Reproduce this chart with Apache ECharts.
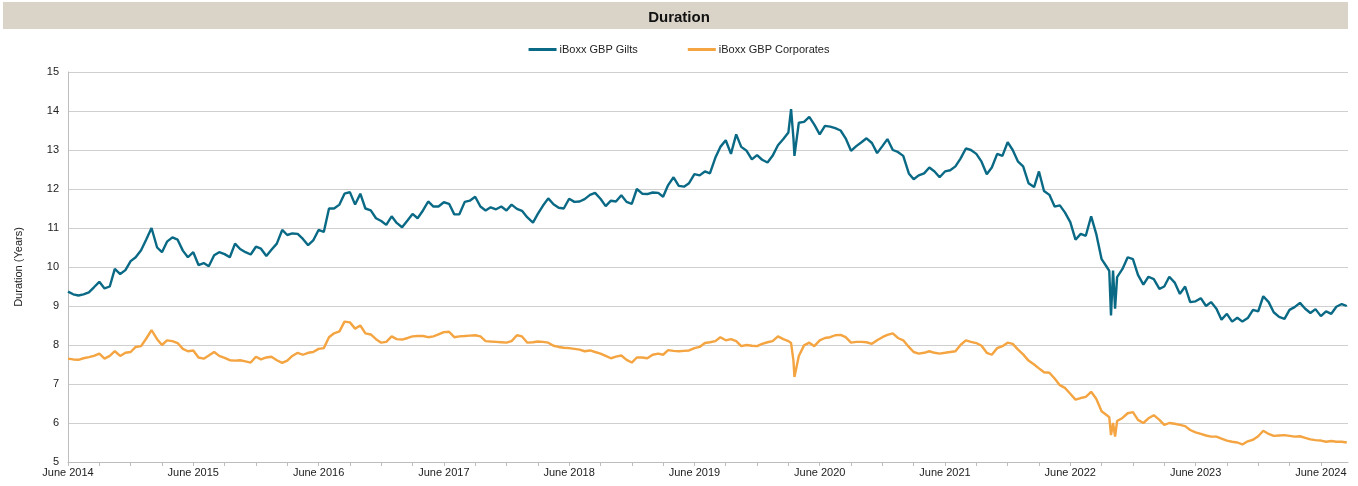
<!DOCTYPE html>
<html>
<head>
<meta charset="utf-8">
<title>Duration</title>
<script src="https://cdn.jsdelivr.net/npm/echarts@6/dist/echarts.min.js"></script>
<style>
  html, body { margin: 0; padding: 0; background: #fff; }
  #chart { width: 1358px; height: 486px; }
</style>
</head>
<body>
<div id="chart"></div>
<script>
// sampling calendar: 1st and 16th of each month, plus extra days around the two shocks
function halfMonths(from, to) {
  let [y, m] = from.split('-').map(Number)
  const [ty, tm] = to.split('-').map(Number)
  const out = []
  while (y < ty || (y === ty && m <= tm)) {
    const mm = String(m).padStart(2, '0')
    out.push(y + '-' + mm + '-01', y + '-' + mm + '-16')
    m++
    if (m > 12) { m = 1; y++ }
  }
  return out
}

const dates = [].concat(
  halfMonths('2014-06', '2020-02'),
  ['2020-03-01', '2020-03-09', '2020-03-16', '2020-03-19'],
  halfMonths('2020-04', '2022-08'),
  ['2022-09-01', '2022-09-16', '2022-09-23', '2022-09-28', '2022-10-04', '2022-10-10', '2022-10-16'],
  halfMonths('2022-11', '2024-08')
)

const giltsDuration = [
  // 2014
  9.37, 9.30, 9.27, 9.30, 9.35, 9.48, 9.62, 9.45, 9.50, 9.95, 9.82, 9.92, 10.15, 10.25,
  // 2015
  10.43, 10.70, 11.00, 10.50, 10.38, 10.65, 10.76, 10.70, 10.42, 10.25, 10.38, 10.05,
  10.10, 10.02, 10.30, 10.38, 10.33, 10.25, 10.60, 10.46, 10.38, 10.32, 10.52, 10.47,
  // 2016
  10.28, 10.44, 10.60, 10.95, 10.82, 10.86, 10.85, 10.72, 10.56, 10.68, 10.95, 10.90,
  11.50, 11.50, 11.60, 11.88, 11.92, 11.60, 11.88, 11.50, 11.45, 11.25, 11.18, 11.08,
  // 2017
  11.30, 11.13, 11.02, 11.20, 11.36, 11.25, 11.45, 11.68, 11.55, 11.55, 11.66, 11.62,
  11.35, 11.35, 11.67, 11.70, 11.80, 11.55, 11.45, 11.53, 11.48, 11.55, 11.45, 11.60,
  // 2018
  11.49, 11.44, 11.27, 11.14, 11.36, 11.57, 11.76, 11.61, 11.52, 11.50, 11.75, 11.67,
  11.68, 11.74, 11.85, 11.90, 11.75, 11.56, 11.70, 11.68, 11.84, 11.67, 11.62, 12.00,
  // 2019
  11.88, 11.87, 11.91, 11.90, 11.80, 12.10, 12.30, 12.08, 12.06, 12.15, 12.38, 12.35,
  12.45, 12.40, 12.80, 13.08, 13.25, 12.90, 13.40, 13.08, 12.98, 12.76, 12.87, 12.75,
  // 2020
  12.68, 12.85, 13.12, 13.28, 13.45, 14.05, 13.30, 12.85, 13.70, 13.72, 13.85, 13.65, 13.40,
  13.62, 13.60, 13.56, 13.50, 13.30, 12.98, 13.10, 13.20, 13.30, 13.18, 12.92, 13.10, 13.28,
  // 2021
  13.00, 12.95, 12.85, 12.40, 12.25, 12.35, 12.40, 12.55, 12.45, 12.30, 12.45, 12.48,
  12.58, 12.78, 13.04, 13.00, 12.90, 12.70, 12.38, 12.55, 12.90, 12.85, 13.20, 13.00,
  // 2022
  12.70, 12.58, 12.15, 12.05, 12.45, 11.95, 11.85, 11.55, 11.58, 11.40, 11.15, 10.70,
  10.85, 10.80, 11.30, 10.85, 10.20, 10.00, 9.90, 8.76, 9.91, 8.93, 9.74,
  9.95, 10.25, 10.20, 9.80,
  // 2023
  9.55, 9.75, 9.69, 9.44, 9.50, 9.75, 9.60, 9.31, 9.50, 9.10, 9.12, 9.20,
  9.00, 9.10, 8.93, 8.65, 8.80, 8.60, 8.70, 8.60, 8.69, 8.90, 8.86, 9.25,
  // 2024
  9.10, 8.84, 8.72, 8.67, 8.90, 8.97, 9.08, 8.93, 8.82, 8.92, 8.74, 8.86, 8.80, 8.98, 9.05, 9.00
]

const corporatesDuration = [
  // 2014
  7.65, 7.63, 7.62, 7.66, 7.69, 7.72, 7.78, 7.65, 7.72, 7.84, 7.72, 7.80, 7.82, 7.95,
  // 2015
  7.97, 8.16, 8.38, 8.15, 8.00, 8.12, 8.10, 8.05, 7.90, 7.84, 7.86, 7.68,
  7.65, 7.73, 7.82, 7.72, 7.67, 7.61, 7.60, 7.61, 7.58, 7.55, 7.70, 7.63,
  // 2016
  7.68, 7.70, 7.61, 7.54, 7.60, 7.72, 7.80, 7.75, 7.80, 7.82, 7.90, 7.92,
  8.20, 8.30, 8.35, 8.60, 8.58, 8.42, 8.50, 8.30, 8.27, 8.15, 8.06, 8.08,
  // 2017
  8.22, 8.15, 8.14, 8.18, 8.22, 8.23, 8.23, 8.20, 8.22, 8.27, 8.33, 8.34,
  8.20, 8.22, 8.23, 8.24, 8.25, 8.22, 8.10, 8.09, 8.08, 8.07, 8.06, 8.10,
  // 2018
  8.25, 8.22, 8.06, 8.07, 8.09, 8.08, 8.06, 7.98, 7.95, 7.93, 7.92, 7.90,
  7.88, 7.84, 7.86, 7.82, 7.78, 7.72, 7.66, 7.70, 7.73, 7.62, 7.55, 7.68,
  // 2019
  7.68, 7.66, 7.75, 7.78, 7.75, 7.87, 7.85, 7.84, 7.85, 7.86, 7.92, 7.95,
  8.05, 8.07, 8.10, 8.20, 8.12, 8.15, 8.10, 7.97, 8.00, 7.98, 7.97, 8.03,
  // 2020
  8.07, 8.10, 8.22, 8.15, 8.10, 8.05, 7.60, 7.18, 7.72, 7.99, 8.06, 7.97, 8.12,
  8.18, 8.20, 8.25, 8.26, 8.20, 8.06, 8.08, 8.08, 8.07, 8.03, 8.12, 8.20, 8.26,
  // 2021
  8.30, 8.18, 8.12, 7.95, 7.82, 7.78, 7.80, 7.84, 7.80, 7.78, 7.80, 7.82,
  7.84, 8.00, 8.12, 8.08, 8.05, 7.98, 7.80, 7.75, 7.92, 7.97, 8.06, 8.03,
  // 2022
  7.88, 7.76, 7.60, 7.50, 7.40, 7.30, 7.29, 7.14, 6.97, 6.90, 6.75, 6.60,
  6.64, 6.67, 6.80, 6.62, 6.30, 6.20, 6.15, 5.69, 6.00, 5.65, 6.05,
  6.13, 6.25, 6.28, 6.08,
  // 2023
  6.00, 6.12, 6.20, 6.08, 5.95, 6.00, 5.98, 5.95, 5.92, 5.82, 5.76, 5.72,
  5.68, 5.65, 5.65, 5.60, 5.55, 5.52, 5.50, 5.45, 5.53, 5.57, 5.66, 5.80,
  // 2024
  5.72, 5.67, 5.68, 5.69, 5.67, 5.65, 5.66, 5.62, 5.58, 5.56, 5.55, 5.52, 5.54, 5.52, 5.52, 5.50
]

const seriesNames = ['iBoxx GBP Gilts', 'iBoxx GBP Corporates']
const yTicks = [5, 6, 7, 8, 9, 10, 11, 12, 13, 14, 15]
const xLabelYears = [2014, 2015, 2016, 2017, 2018, 2019, 2020, 2021, 2022, 2023, 2024]

// x axis runs in months since 1 June 2014
function monthOffset(s) {
  const [y, mo, d] = s.split('-').map(Number)
  const dim = new Date(y, mo, 0).getDate()
  return (y - 2014) * 12 + (mo - 6) + (d - 1) / dim
}
const xs = dates.map(monthOffset)
const pairs = (vals) => vals.map((v, i) => [xs[i], v])

const labelTicks = xLabelYears.map(y => (y - 2014) * 12)
const quarterTicks = []
for (let q = 0; q <= 120; q += 3) quarterTicks.push(q)

const font = "'Liberation Sans', Arial, sans-serif"
const chart = echarts.init(document.getElementById('chart'))

chart.setOption({
  animation: false,
  textStyle: { fontFamily: font },
  graphic: [
    {
      type: 'rect',
      left: 3,
      top: 2,
      shape: { width: 1345, height: 27 },
      style: { fill: '#d9d3c8' },
      z: -1
    }
  ],
  title: {
    text: 'Duration',
    left: 'center',
    top: 5,
    textStyle: { fontSize: 15, fontWeight: 'bold', color: '#111', fontFamily: font }
  },
  legend: {
    top: 39,
    left: 'center',
    itemGap: 50,
    itemWidth: 28,
    itemHeight: 3,
    icon: 'rect',
    textStyle: { fontSize: 11, color: '#222', padding: [0, 0, 0, -2] },
    data: seriesNames
  },
  grid: { left: 68, right: 10, top: 72, bottom: 24 },
  xAxis: {
    type: 'value',
    min: 0,
    max: 122.6,
    axisLine: { lineStyle: { color: '#bdbdbd' } },
    axisTick: { show: true, length: 4, customValues: quarterTicks, lineStyle: { color: '#bdbdbd' } },
    axisLabel: {
      customValues: labelTicks,
      color: '#222',
      fontSize: 11,
      margin: 5,
      formatter: (v) => 'June ' + (2014 + Math.round(v / 12))
    },
    splitLine: { show: false }
  },
  yAxis: {
    type: 'value',
    min: yTicks[0],
    max: yTicks[yTicks.length - 1],
    interval: 1,
    name: 'Duration (Years)',
    nameLocation: 'middle',
    nameGap: 44,
    nameTextStyle: { fontSize: 11, color: '#222' },
    axisLine: { show: true, lineStyle: { color: '#bdbdbd' } },
    axisTick: { show: false },
    axisLabel: { color: '#222', fontSize: 11, margin: 9 },
    splitLine: { lineStyle: { color: '#cfcfcf', width: 1 } }
  },
  series: [
    {
      name: seriesNames[1],
      type: 'line',
      data: pairs(corporatesDuration),
      showSymbol: false,
      color: '#f4a441',
      lineStyle: { width: 2.4, color: '#f4a441' }
    },
    {
      name: seriesNames[0],
      type: 'line',
      data: pairs(giltsDuration),
      showSymbol: false,
      color: '#0a6a86',
      lineStyle: { width: 2.4, color: '#0a6a86' }
    }
  ]
})
</script>
</body>
</html>
